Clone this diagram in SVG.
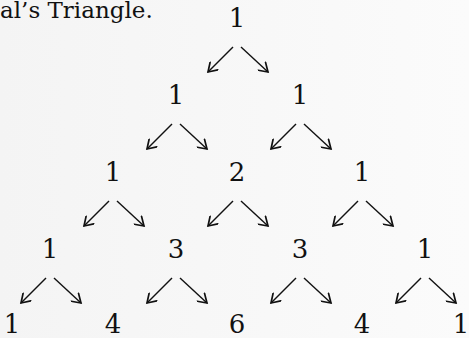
<svg xmlns="http://www.w3.org/2000/svg" width="469" height="338" viewBox="0 0 469 338">
<defs>
<linearGradient id="bg" x1="0" y1="0" x2="1" y2="0">
<stop offset="0" stop-color="#f4f4f4"/>
<stop offset="1" stop-color="#fbfbfb"/>
</linearGradient>
<marker id="ah" markerUnits="userSpaceOnUse" markerWidth="12" markerHeight="12" refX="8" refY="5" orient="auto" viewBox="0 0 10 10">
<path d="M1,0.5 L8,5 L1,9.5" fill="none" stroke="#111" stroke-width="1.4" stroke-linecap="round" stroke-linejoin="miter"/>
</marker>
<style>
.n{font-family:"DejaVu Serif","Liberation Serif",serif;font-size:26px;fill:#111;text-anchor:middle}
.t{font-family:"DejaVu Serif","Liberation Serif",serif;font-size:23px;fill:#111}
.a{stroke:#111;stroke-width:1.4;fill:none;marker-end:url(#ah)}
</style>
</defs>
<rect width="469" height="338" fill="url(#bg)"/>
<text class="t" x="0" y="18">al’s Triangle.</text>
<g id="connectors">
<line class="a" x1="233" y1="47" x2="208" y2="72"/>
<line class="a" x1="241" y1="47" x2="268" y2="72"/>
<line class="a" x1="172" y1="124" x2="147" y2="149"/>
<line class="a" x1="180" y1="124" x2="207" y2="149"/>
<line class="a" x1="296" y1="124" x2="271" y2="149"/>
<line class="a" x1="304" y1="124" x2="331" y2="149"/>
<line class="a" x1="109" y1="201" x2="84" y2="226"/>
<line class="a" x1="117" y1="201" x2="144" y2="226"/>
<line class="a" x1="233" y1="201" x2="208" y2="226"/>
<line class="a" x1="241" y1="201" x2="268" y2="226"/>
<line class="a" x1="358" y1="201" x2="333" y2="226"/>
<line class="a" x1="366" y1="201" x2="393" y2="226"/>
<line class="a" x1="46" y1="278" x2="21" y2="303"/>
<line class="a" x1="54" y1="278" x2="81" y2="303"/>
<line class="a" x1="172" y1="278" x2="147" y2="303"/>
<line class="a" x1="180" y1="278" x2="207" y2="303"/>
<line class="a" x1="296" y1="278" x2="271" y2="303"/>
<line class="a" x1="304" y1="278" x2="331" y2="303"/>
<line class="a" x1="421" y1="278" x2="396" y2="303"/>
<line class="a" x1="429" y1="278" x2="456" y2="303"/>
</g>
<g id="r0c0"><text class="n" x="237" y="27">1</text></g>
<g id="r1c0"><text class="n" x="176" y="104">1</text></g>
<g id="r1c1"><text class="n" x="300" y="104">1</text></g>
<g id="r2c0"><text class="n" x="113" y="181">1</text></g>
<g id="r2c1"><text class="n" x="237" y="181">2</text></g>
<g id="r2c2"><text class="n" x="362" y="181">1</text></g>
<g id="r3c0"><text class="n" x="50" y="258">1</text></g>
<g id="r3c1"><text class="n" x="176" y="258">3</text></g>
<g id="r3c2"><text class="n" x="300" y="258">3</text></g>
<g id="r3c3"><text class="n" x="425" y="258">1</text></g>
<g id="r4c0"><text class="n" x="12" y="333">1</text></g>
<g id="r4c1"><text class="n" x="113" y="333">4</text></g>
<g id="r4c2"><text class="n" x="237" y="333">6</text></g>
<g id="r4c3"><text class="n" x="362" y="333">4</text></g>
<g id="r4c4"><text class="n" x="461" y="333">1</text></g>
</svg>
